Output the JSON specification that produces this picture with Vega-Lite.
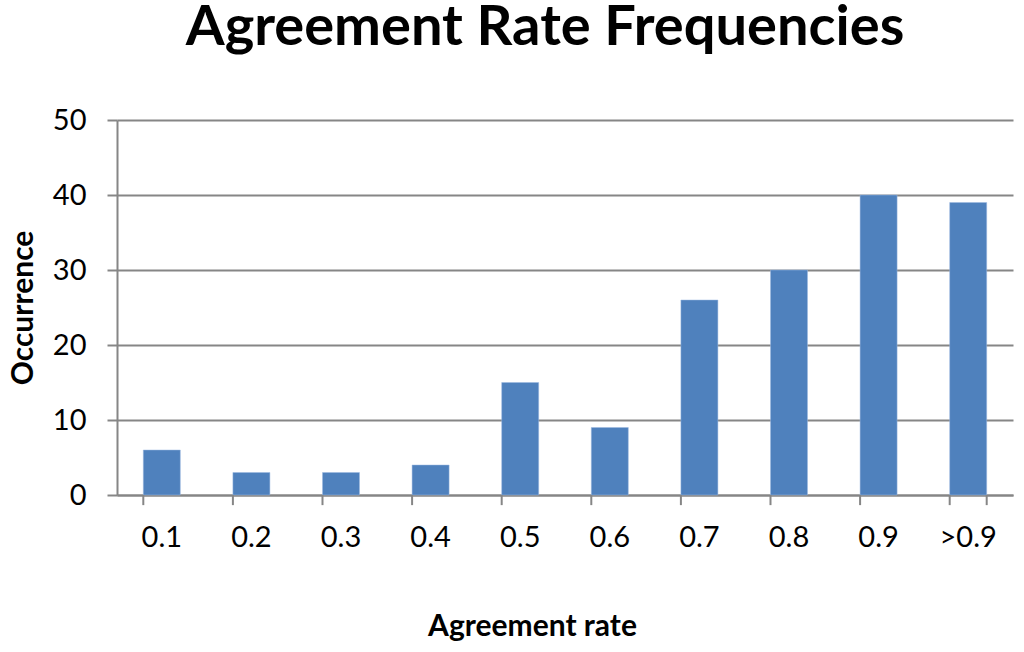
{
  "$schema": "https://vega.github.io/schema/vega-lite/v6.json",
  "autosize": "none",
  "width": 896,
  "height": 375,
  "padding": {"left": 117, "top": 120, "right": 11, "bottom": 157},
  "background": "white",
  "title": {
    "text": "Agreement Rate Frequencies",
    "font": "Lato",
    "fontSize": 56,
    "fontWeight": "bold",
    "color": "black",
    "anchor": "middle",
    "dx": -20,
    "offset": 49
  },
  "data": {
    "values": [
      {"rate": "0.1", "count": 6},
      {"rate": "0.2", "count": 3},
      {"rate": "0.3", "count": 3},
      {"rate": "0.4", "count": 4},
      {"rate": "0.5", "count": 15},
      {"rate": "0.6", "count": 9},
      {"rate": "0.7", "count": 26},
      {"rate": "0.8", "count": 30},
      {"rate": "0.9", "count": 40},
      {"rate": ">0.9", "count": 39}
    ]
  },
  "encoding": {
    "x": {
      "field": "rate",
      "type": "nominal",
      "sort": null,
      "scale": {"paddingInner": 0.587, "paddingOuter": 0.2935},
      "axis": {
        "title": "Agreement rate",
        "titleFont": "Lato",
        "titleFontSize": 30,
        "titleFontWeight": "bold",
        "titleColor": "black",
        "titleX": 415,
        "titleY": 140,
        "titleBaseline": "alphabetic",
        "labelAngle": 0,
        "labelFont": "Lato",
        "labelFontSize": 29,
        "labelColor": "black",
        "labelPadding": 28,
        "ticks": false,
        "domainColor": "#868686",
        "domainWidth": 2,
        "grid": false
      }
    }
  },
  "layer": [
    {
      "mark": {"type": "bar", "color": "#4F81BD", "stroke": "#9DB9E0", "strokeWidth": 0.5},
      "encoding": {
        "y": {
          "field": "count",
          "type": "quantitative",
          "scale": {"domain": [0, 50], "nice": false},
          "axis": {
            "title": "Occurrence",
            "titleFont": "Lato",
            "titleFontSize": 30,
            "titleFontWeight": "bold",
            "titleColor": "black",
            "titlePadding": 14,
            "values": [0, 10, 20, 30, 40, 50],
            "labelFont": "Lato",
            "labelFontSize": 29,
            "labelColor": "black",
            "labelPadding": 21,
            "tickSize": 10,
            "tickColor": "#868686",
            "tickWidth": 2,
            "domainColor": "#868686",
            "domainWidth": 2,
            "grid": true,
            "gridColor": "#868686",
            "gridWidth": 2
          }
        }
      }
    },
    {
      "mark": {"type": "rule", "color": "#868686", "strokeWidth": 2},
      "encoding": {
        "x": {"field": "rate", "type": "nominal", "sort": null, "bandPosition": 0},
        "y": {"datum": 0},
        "y2": {"datum": -1.35}
      }
    },
    {
      "transform": [{"filter": "datum.rate === '>0.9'"}],
      "mark": {"type": "rule", "color": "#868686", "strokeWidth": 2},
      "encoding": {
        "x": {"field": "rate", "type": "nominal", "sort": null, "bandPosition": 1},
        "y": {"datum": 0},
        "y2": {"datum": -1.35}
      }
    }
  ],
  "config": {"view": {"stroke": null}}
}
